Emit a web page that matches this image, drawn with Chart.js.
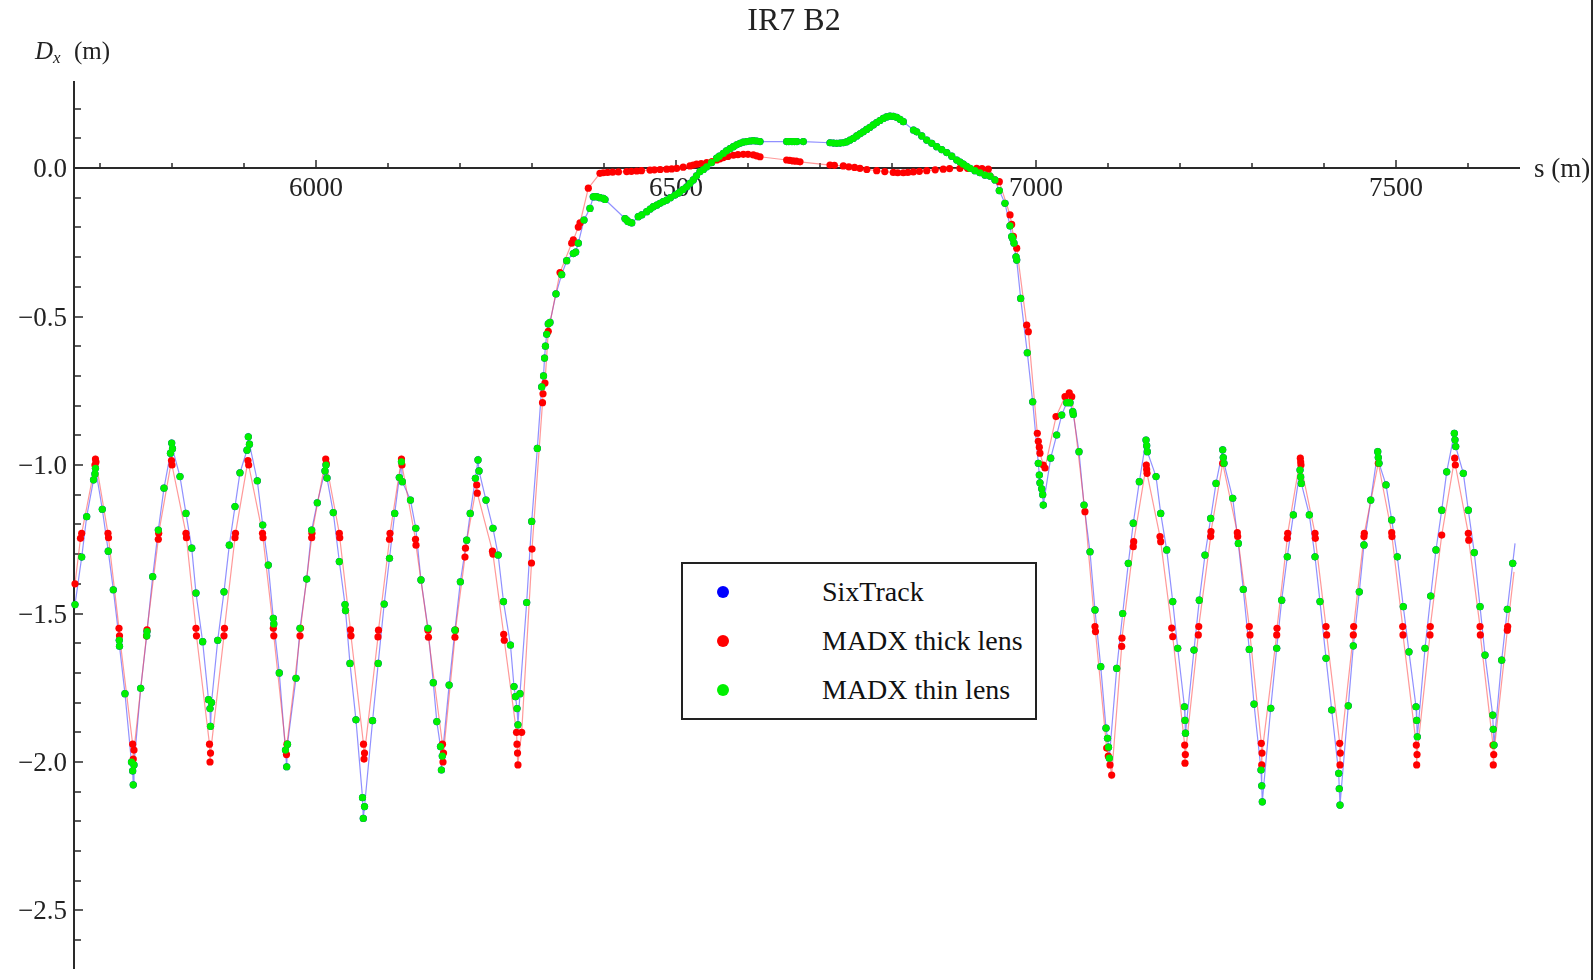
<!DOCTYPE html>
<html>
<head>
  <title>IR7 B2 - Dx</title>
  <meta charset="UTF-8">
  <script src="https://cdn.jsdelivr.net/npm/chart.js"></script>
  <style>
    body {
      margin: 0;
      background: #fff;
    }
    #wrap {
      position: relative;
      width: 1595px;
      height: 980px;
    }
    #legend {
      position: absolute;
      left: 681px;
      top: 562px;
      width: 352px;
      height: 154px;
      border: 2px solid #222;
      background: #fff;
      font-family: "Liberation Serif", "Times New Roman", serif;
      font-size: 28px;
      color: #111;
    }
    .row { position: absolute; left: 0; width: 100%; height: 40px; line-height: 40px; }
    .dot { position: absolute; left: 34px; top: 14px; width: 12px; height: 12px; border-radius: 50%; }
    .lbl { position: absolute; left: 139px; white-space: nowrap; }
  </style>
</head>
<body>
  <div id="wrap">
    <canvas id="dxChart"></canvas>
    <div id="legend">
      <div class="row" style="top:8px"><span class="dot" style="background:#0000ff"></span><span class="lbl">SixTrack</span></div>
      <div class="row" style="top:57px"><span class="dot" style="background:#ff0000"></span><span class="lbl">MADX thick lens</span></div>
      <div class="row" style="top:106px"><span class="dot" style="background:#00f000"></span><span class="lbl">MADX thin lens</span></div>
    </div>
  </div>

  <script>
    // axis ranges and ticks
    const sRange = [5663.9, 7672.2];
    const dxRange = [-2.697, 0.293];
    const sMajorTicks = [6000, 6500, 7000, 7500];
    const sTickLabels = ['6000', '6500', '7000', '7500'];
    const dxMajorTicks = [0, -0.5, -1, -1.5, -2, -2.5];
    const dxTickLabels = ['0.0', '\u22120.5', '\u22121.0', '\u22121.5', '\u22122.0', '\u22122.5'];

    // MADX thin lens: [s (m), Dx (m)]
    const thinLensPts = [
      [5665.3,-1.47],[5674.6,-1.31],[5681.5,-1.174],[5691.0,-1.05],[5693.0,-1.03],[5693.7,-1.011],
      [5703.2,-1.149],[5711.5,-1.29],[5718.5,-1.42],[5726.8,-1.59],[5727.1,-1.61],[5734.7,-1.77],
      [5743.7,-2.0],[5745.4,-2.03],[5746.2,-2.077],[5747.2,-2.01],[5756.5,-1.752],[5764.9,-1.575],
      [5765.3,-1.561],[5773.2,-1.376],[5781.0,-1.219],[5788.9,-1.078],[5797.9,-0.96],[5799.6,-0.926],
      [5800.7,-0.945],[5811.1,-1.039],[5819.4,-1.163],[5827.4,-1.28],[5833.3,-1.431],[5842.6,-1.595],
      [5850.7,-1.79],[5852.8,-1.82],[5853.5,-1.88],[5854.9,-1.80],[5863.5,-1.59],[5872.2,-1.427],
      [5879.6,-1.27],[5887.5,-1.14],[5894.4,-1.026],[5904.2,-0.95],[5906.0,-0.905],[5907.6,-0.93],
      [5918.5,-1.053],[5926.0,-1.202],[5933.7,-1.337],[5940.7,-1.516],[5941.4,-1.535],[5949.0,-1.70],
      [5957.6,-1.96],[5959.3,-2.016],[5960.4,-1.94],[5972.2,-1.718],[5977.8,-1.55],[5987.1,-1.384],
      [5994.0,-1.219],[6001.8,-1.127],[6012.5,-1.02],[6013.9,-1.0],[6015.3,-1.044],[6024.0,-1.16],
      [6032.4,-1.325],[6040.3,-1.47],[6041.0,-1.49],[6047.2,-1.668],[6055.5,-1.858],[6064.6,-2.12],
      [6065.7,-2.19],[6067.4,-2.15],[6078.6,-1.861],[6086.4,-1.668],[6094.7,-1.468],[6102.1,-1.314],
      [6109.3,-1.163],[6115.7,-1.042],[6118.7,-0.989],[6119.9,-1.056],[6131.2,-1.118],[6138.6,-1.213],
      [6145.8,-1.387],[6155.5,-1.55],[6162.9,-1.733],[6167.8,-1.864],[6172.9,-1.948],[6174.2,-2.027],
      [6175.4,-1.98],[6184.9,-1.741],[6193.0,-1.556],[6200.5,-1.393],[6209.3,-1.253],[6214.2,-1.163],
      [6221.4,-1.045],[6225.0,-0.983],[6226.4,-1.02],[6236.1,-1.118],[6245.8,-1.213],[6253.0,-1.303],
      [6260.4,-1.46],[6270.1,-1.606],[6275.0,-1.746],[6277.1,-1.78],[6279.2,-1.82],[6280.5,-1.875],
      [6283.3,-1.77],[6292.6,-1.463],[6299.6,-1.19],[6307.4,-0.944],[6313.5,-0.737],[6316.0,-0.70],
      [6317.4,-0.64],[6318.7,-0.60],[6320.4,-0.56],[6322.6,-0.525],[6325.0,-0.52],[6333.3,-0.424],
      [6341.2,-0.359],[6348.2,-0.312],[6357.4,-0.288],[6360.7,-0.283],[6364.3,-0.253],[6372.2,-0.175],
      [6380.5,-0.136],[6385.1,-0.097],[6387.5,-0.096],[6390.5,-0.097],[6394.4,-0.10],[6399.0,-0.102],
      [6401.4,-0.106],[6429.2,-0.17],[6431.5,-0.175],[6433.3,-0.18],[6436.0,-0.183],[6438.5,-0.185],
      [6447.6,-0.164],[6452.4,-0.158],[6459.3,-0.147],[6464.2,-0.138],[6468.5,-0.130],[6473.3,-0.125],
      [6477.8,-0.119],[6482.3,-0.113],[6487.1,-0.108],[6492.2,-0.100],[6498.6,-0.091],[6503.1,-0.085],
      [6505.5,-0.080],[6510.0,-0.072],[6514.9,-0.063],[6519.3,-0.052],[6524.0,-0.040],[6528.4,-0.026],
      [6533.3,-0.012],[6538.0,-0.005],[6542.6,0.004],[6549.2,0.018],[6556.5,0.033],[6560.3,0.040],
      [6565.7,0.049],[6570.1,0.058],[6575.0,0.065],[6579.6,0.072],[6584.2,0.078],[6588.9,0.083],
      [6593.4,0.087],[6598.2,0.089],[6602.8,0.091],[6607.4,0.092],[6612.0,0.091],[6616.7,0.089],
      [6653.7,0.089],[6656.8,0.089],[6661.1,0.089],[6664.5,0.089],[6668.0,0.089],[6676.8,0.089],
      [6713.9,0.085],[6718.5,0.084],[6723.2,0.083],[6728.0,0.084],[6732.4,0.085],[6736.8,0.088],
      [6741.7,0.094],[6746.4,0.100],[6751.0,0.108],[6755.5,0.115],[6760.1,0.122],[6764.8,0.130],
      [6769.4,0.137],[6774.0,0.145],[6778.7,0.153],[6783.2,0.160],[6787.9,0.167],[6792.5,0.172],
      [6797.2,0.175],[6801.8,0.174],[6806.5,0.171],[6811.1,0.164],[6815.7,0.156],[6829.8,0.128],
      [6834.3,0.122],[6841.3,0.108],[6848.2,0.094],[6855.2,0.083],[6862.1,0.072],[6869.0,0.062],
      [6876.0,0.052],[6883.0,0.040],[6889.9,0.027],[6894.5,0.020],[6899.0,0.013],[6903.6,0.006],
      [6908.3,-0.001],[6915.2,-0.009],[6922.2,-0.016],[6929.2,-0.024],[6936.1,-0.027],[6943.0,-0.04],
      [6949.0,-0.076],[6956.9,-0.119],[6963.9,-0.195],[6966.2,-0.231],[6967.6,-0.237],[6969.4,-0.253],
      [6972.2,-0.299],[6973.2,-0.31],[6978.7,-0.439],[6987.9,-0.622],[6995.4,-0.787],[7003.2,-0.994],
      [7004.6,-1.034],[7005.5,-1.06],[7007.9,-1.08],[7009.3,-1.1],[7010.1,-1.135],[7020.4,-0.977],
      [7028.7,-0.899],[7035.7,-0.832],[7042.6,-0.79],[7047.2,-0.79],[7051.0,-0.82],[7051.8,-0.83],
      [7059.7,-0.955],[7066.7,-1.135],[7075.0,-1.292],[7081.9,-1.488],[7089.9,-1.679],[7097.2,-1.886],
      [7099.3,-1.92],[7100.7,-1.95],[7101.8,-1.987],[7112.1,-1.685],[7120.4,-1.50],[7128.2,-1.331],
      [7135.1,-1.196],[7143.5,-1.056],[7152.8,-0.916],[7153.7,-0.935],[7154.6,-0.955],[7166.7,-1.039],
      [7173.2,-1.163],[7181.5,-1.286],[7189.9,-1.46],[7196.8,-1.617],[7206.2,-1.814],[7206.9,-1.86],
      [7207.6,-1.903],[7219.4,-1.623],[7226.8,-1.455],[7234.7,-1.303],[7242.6,-1.18],[7250.0,-1.062],
      [7259.3,-0.949],[7260.1,-0.975],[7261.1,-0.994],[7273.2,-1.112],[7281.0,-1.264],[7287.9,-1.419],
      [7296.2,-1.621],[7302.8,-1.805],[7312.5,-2.027],[7313.5,-2.08],[7314.3,-2.134],[7326.0,-1.819],
      [7334.3,-1.617],[7341.2,-1.455],[7349.0,-1.309],[7357.4,-1.168],[7366.7,-1.017],[7367.6,-1.04],
      [7368.5,-1.062],[7379.6,-1.168],[7387.5,-1.309],[7394.4,-1.46],[7402.8,-1.651],[7410.7,-1.825],
      [7420.4,-2.038],[7421.2,-2.09],[7422.2,-2.145],[7433.7,-1.811],[7440.7,-1.609],[7449.0,-1.427],
      [7455.5,-1.269],[7464.9,-1.118],[7474.6,-0.955],[7475.4,-0.975],[7476.4,-0.994],[7486.1,-1.067],
      [7494.0,-1.185],[7501.8,-1.309],[7510.1,-1.477],[7518.0,-1.629],[7527.8,-1.814],[7528.7,-1.86],
      [7529.6,-1.915],[7540.3,-1.617],[7548.2,-1.441],[7555.5,-1.286],[7563.5,-1.152],[7570.4,-1.023],
      [7581.0,-0.893],[7581.9,-0.915],[7582.9,-0.938],[7593.5,-1.028],[7600.4,-1.152],[7608.7,-1.295],
      [7616.7,-1.477],[7623.6,-1.64],[7634.3,-1.842],[7635.1,-1.89],[7636.1,-1.943],[7646.8,-1.657],
      [7654.6,-1.486],[7662.1,-1.331]
    ];

    // SixTrack: the blue line runs through every thin-lens marker, plus its own last point
    const sixTrackPts = thinLensPts.concat([[7665.3, -1.264]]);

    // MADX thick lens: [s (m), Dx (m)]
    const thickLensPts = [
      [5665.3,-1.40],[5672.9,-1.247],[5674.6,-1.23],[5693.0,-1.0],[5693.7,-0.98],[5694.4,-0.99],
      [5711.1,-1.23],[5711.8,-1.245],[5726.4,-1.55],[5727.1,-1.575],[5745.4,-1.94],[5746.2,-1.99],
      [5747.2,-1.96],[5764.6,-1.575],[5765.3,-1.555],[5781.0,-1.25],[5781.5,-1.23],[5799.3,-0.985],
      [5800.0,-1.0],[5819.4,-1.23],[5820.1,-1.245],[5833.3,-1.55],[5834.0,-1.575],[5852.1,-1.94],
      [5852.8,-2.0],[5853.5,-1.97],[5872.2,-1.575],[5872.9,-1.55],[5887.5,-1.245],[5888.2,-1.23],
      [5905.5,-0.985],[5906.5,-1.0],[5925.7,-1.23],[5926.4,-1.245],[5940.7,-1.55],[5941.4,-1.575],
      [5959.0,-1.975],[5959.7,-1.94],[5977.8,-1.575],[5978.5,-1.55],[5994.0,-1.245],[5994.4,-1.23],
      [6013.5,-0.98],[6014.3,-0.995],[6032.4,-1.23],[6033.0,-1.245],[6047.9,-1.555],[6048.6,-1.575],
      [6066.0,-1.94],[6066.7,-1.99],[6067.4,-1.97],[6086.1,-1.579],[6086.8,-1.556],[6102.1,-1.25],
      [6102.8,-1.23],[6118.7,-0.98],[6119.4,-1.0],[6138.2,-1.25],[6138.9,-1.27],[6155.5,-1.556],
      [6156.2,-1.58],[6175.7,-1.94],[6176.4,-2.0],[6177.1,-1.97],[6193.0,-1.58],[6193.7,-1.556],
      [6206.9,-1.31],[6207.6,-1.28],[6223.2,-1.067],[6224.0,-1.095],[6245.1,-1.29],[6245.8,-1.30],
      [6260.7,-1.57],[6261.5,-1.59],[6278.5,-1.90],[6279.2,-1.94],[6279.9,-1.97],[6280.5,-2.01],
      [6285.7,-1.90],[6299.3,-1.33],[6300.0,-1.283],[6314.6,-0.79],[6315.3,-0.76],[6318.0,-0.724],
      [6322.6,-0.55],[6338.9,-0.352],[6355.1,-0.253],[6357.4,-0.242],[6364.3,-0.199],[6366.7,-0.185],
      [6378.2,-0.068],[6394.4,-0.018],[6399.0,-0.016],[6405.0,-0.015],[6412.0,-0.014],[6420.0,-0.013],
      [6431.5,-0.012],[6438.0,-0.011],[6445.4,-0.010],[6452.0,-0.009],[6463.9,-0.007],[6470.0,-0.006],
      [6478.0,-0.005],[6487.1,-0.004],[6494.0,-0.003],[6501.0,-0.001],[6510.0,0.003],[6519.4,0.007],
      [6524.0,0.010],[6528.7,0.013],[6535.0,0.015],[6542.6,0.018],[6550.0,0.022],[6556.5,0.027],
      [6561.0,0.031],[6565.7,0.035],[6572.0,0.039],[6579.6,0.043],[6586.0,0.045],[6593.5,0.046],
      [6600.0,0.046],[6607.4,0.044],[6612.0,0.041],[6616.7,0.038],[6653.7,0.027],[6658.0,0.026],
      [6662.5,0.024],[6667.0,0.023],[6672.2,0.021],[6713.9,0.010],[6720.0,0.009],[6732.4,0.007],
      [6740.0,0.004],[6748.0,0.002],[6755.5,-0.001],[6765.0,-0.005],[6778.7,-0.009],[6790.0,-0.012],
      [6801.8,-0.015],[6808.0,-0.016],[6815.7,-0.016],[6822.0,-0.015],[6829.6,-0.013],[6838.0,-0.011],
      [6848.2,-0.009],[6860.0,-0.006],[6871.2,-0.004],[6880.0,-0.002],[6894.4,-0.001],[6905.0,-0.001],
      [6917.6,-0.001],[6925.0,-0.002],[6933.7,-0.004],[6949.0,-0.046],[6963.9,-0.158],[6966.2,-0.19],
      [6968.5,-0.23],[6973.2,-0.27],[6987.1,-0.529],[6989.3,-0.551],[7001.8,-0.893],[7003.2,-0.92],
      [7004.6,-0.94],[7005.5,-0.96],[7010.1,-1.0],[7012.5,-1.01],[7027.8,-0.837],[7040.3,-0.77],
      [7046.2,-0.757],[7049.6,-0.77],[7068.0,-1.157],[7081.9,-1.544],[7082.6,-1.561],[7098.2,-1.953],
      [7100.4,-1.98],[7102.8,-2.01],[7105.1,-2.044],[7119.0,-1.611],[7119.4,-1.583],[7135.1,-1.275],
      [7135.7,-1.258],[7153.2,-1.0],[7153.7,-1.015],[7154.2,-1.028],[7172.2,-1.241],[7173.2,-1.258],
      [7188.5,-1.549],[7189.9,-1.578],[7206.5,-1.943],[7206.9,-2.004],[7207.4,-1.975],[7225.4,-1.572],
      [7226.0,-1.544],[7242.6,-1.241],[7243.0,-1.224],[7259.3,-0.994],[7279.6,-1.228],[7280.1,-1.241],
      [7296.2,-1.544],[7297.2,-1.572],[7312.9,-1.937],[7313.5,-2.01],[7313.9,-1.97],[7334.3,-1.572],
      [7334.7,-1.55],[7349.0,-1.247],[7349.6,-1.23],[7367.1,-0.977],[7367.6,-0.99],[7368.0,-1.0],
      [7387.5,-1.23],[7387.9,-1.247],[7402.8,-1.544],[7403.7,-1.572],[7421.8,-1.937],[7422.2,-2.01],
      [7422.6,-1.97],[7440.7,-1.572],[7441.2,-1.544],[7455.5,-1.241],[7456.0,-1.23],[7475.4,-0.994],
      [7494.0,-1.228],[7494.4,-1.241],[7509.3,-1.544],[7509.7,-1.572],[7528.2,-1.943],[7528.7,-2.01],
      [7529.2,-1.975],[7547.2,-1.572],[7547.6,-1.544],[7563.5,-1.236],[7581.5,-0.977],[7582.4,-1.0],
      [7600.4,-1.23],[7601.0,-1.253],[7616.7,-1.544],[7617.1,-1.572],[7634.7,-1.943],[7635.1,-2.01],
      [7635.7,-1.975],[7654.6,-1.556],[7655.1,-1.544],[7663.9,-1.36]
    ];

    const toXY = pts => pts.map(p => ({ x: p[0], y: p[1] }));
    const serif = '"Liberation Serif", "Times New Roman", serif';

    // Mathematica-style axes crossing at Dx = 0, drawn from the chart scales
    const axesPlugin = {
      id: 'mathAxes',
      beforeDatasetsDraw(chart) {
        const { ctx, chartArea: a, scales: { x, y } } = chart;
        const y0 = y.getPixelForValue(0);
        ctx.save();
        ctx.strokeStyle = '#2a2a2a';
        ctx.lineWidth = 2;
        ctx.beginPath();
        ctx.moveTo(a.left, a.top);
        ctx.lineTo(a.left, a.bottom);
        ctx.moveTo(a.left, y0);
        ctx.lineTo(a.right, y0);
        ctx.stroke();

        // s ticks every 100 m, pointing up
        ctx.lineWidth = 1.5;
        ctx.beginPath();
        for (let v = 5700; v <= 7600; v += 100) {
          const px = Math.round(x.getPixelForValue(v));
          const len = sMajorTicks.includes(v) ? 8 : 5;
          ctx.moveTo(px, y0);
          ctx.lineTo(px, y0 - len);
        }
        // Dx ticks every 0.1 m, pointing right
        for (let k = 2; k >= -26; k--) {
          const py = Math.round(y.getPixelForValue(k / 10));
          const len = (k % 5 === 0) ? 9 : 7;
          ctx.moveTo(a.left, py);
          ctx.lineTo(a.left + len, py);
        }
        ctx.stroke();

        ctx.fillStyle = '#222';
        ctx.font = '27px ' + serif;
        ctx.textAlign = 'center';
        ctx.textBaseline = 'alphabetic';
        sMajorTicks.forEach((v, i) => {
          ctx.fillText(sTickLabels[i], x.getPixelForValue(v), y0 + 28);
        });
        ctx.textAlign = 'right';
        dxMajorTicks.forEach((v, i) => {
          ctx.fillText(dxTickLabels[i], a.left - 7, y.getPixelForValue(v) + 9);
        });

        // axis labels
        ctx.textAlign = 'left';
        ctx.fillText('s (m)', a.right + 14, y0 + 9);
        ctx.font = 'italic 25px ' + serif;
        ctx.fillText('D', 35, 59);
        const wD = ctx.measureText('D').width;
        ctx.font = 'italic 17px ' + serif;
        ctx.fillText('x', 35 + wD, 63);
        ctx.font = '25px ' + serif;
        ctx.fillText('(m)', 74, 59);

        // title
        ctx.font = '32px ' + serif;
        ctx.textAlign = 'center';
        ctx.fillText('IR7 B2', 794, 30);

        // frame edge at right
        ctx.lineWidth = 2;
        ctx.beginPath();
        ctx.moveTo(1592, 0);
        ctx.lineTo(1592, 980);
        ctx.stroke();
        ctx.restore();
      }
    };

    const ctx = document.getElementById('dxChart').getContext('2d');
    new Chart(ctx, {
      type: 'scatter',
      data: {
        datasets: [
          {
            label: 'MADX thin lens',
            data: toXY(thinLensPts),
            showLine: false,
            pointRadius: 3.6,
            pointBorderWidth: 0,
            pointBackgroundColor: '#00f000',
            order: 0,
            clip: false
          },
          {
            label: 'MADX thick lens',
            data: toXY(thickLensPts),
            showLine: true,
            borderColor: 'rgba(255, 70, 70, 0.55)',
            borderWidth: 1.2,
            pointRadius: c => (c.dataIndex === thickLensPts.length - 1 ? 0 : 3.6),
            pointBorderWidth: 0,
            pointBackgroundColor: '#ff0000',
            tension: 0,
            order: 1,
            clip: false
          },
          {
            label: 'SixTrack',
            data: toXY(sixTrackPts),
            showLine: true,
            borderColor: 'rgba(70, 70, 255, 0.6)',
            borderWidth: 1.2,
            pointRadius: c => (c.dataIndex === sixTrackPts.length - 1 ? 0 : 3.6),
            pointBorderWidth: 0,
            pointBackgroundColor: '#0000ff',
            tension: 0,
            order: 2,
            clip: false
          }
        ]
      },
      options: {
        responsive: true,
        maintainAspectRatio: false,
        animation: false,
        layout: { padding: { left: 74, right: 75, top: 81, bottom: 11 } },
        scales: {
          x: { type: 'linear', min: sRange[0], max: sRange[1], display: false },
          y: { type: 'linear', min: dxRange[0], max: dxRange[1], display: false }
        },
        plugins: {
          legend: { display: false },
          title: { display: false },
          tooltip: { enabled: false }
        }
      },
      plugins: [axesPlugin]
    });
  </script>
</body>
</html>
